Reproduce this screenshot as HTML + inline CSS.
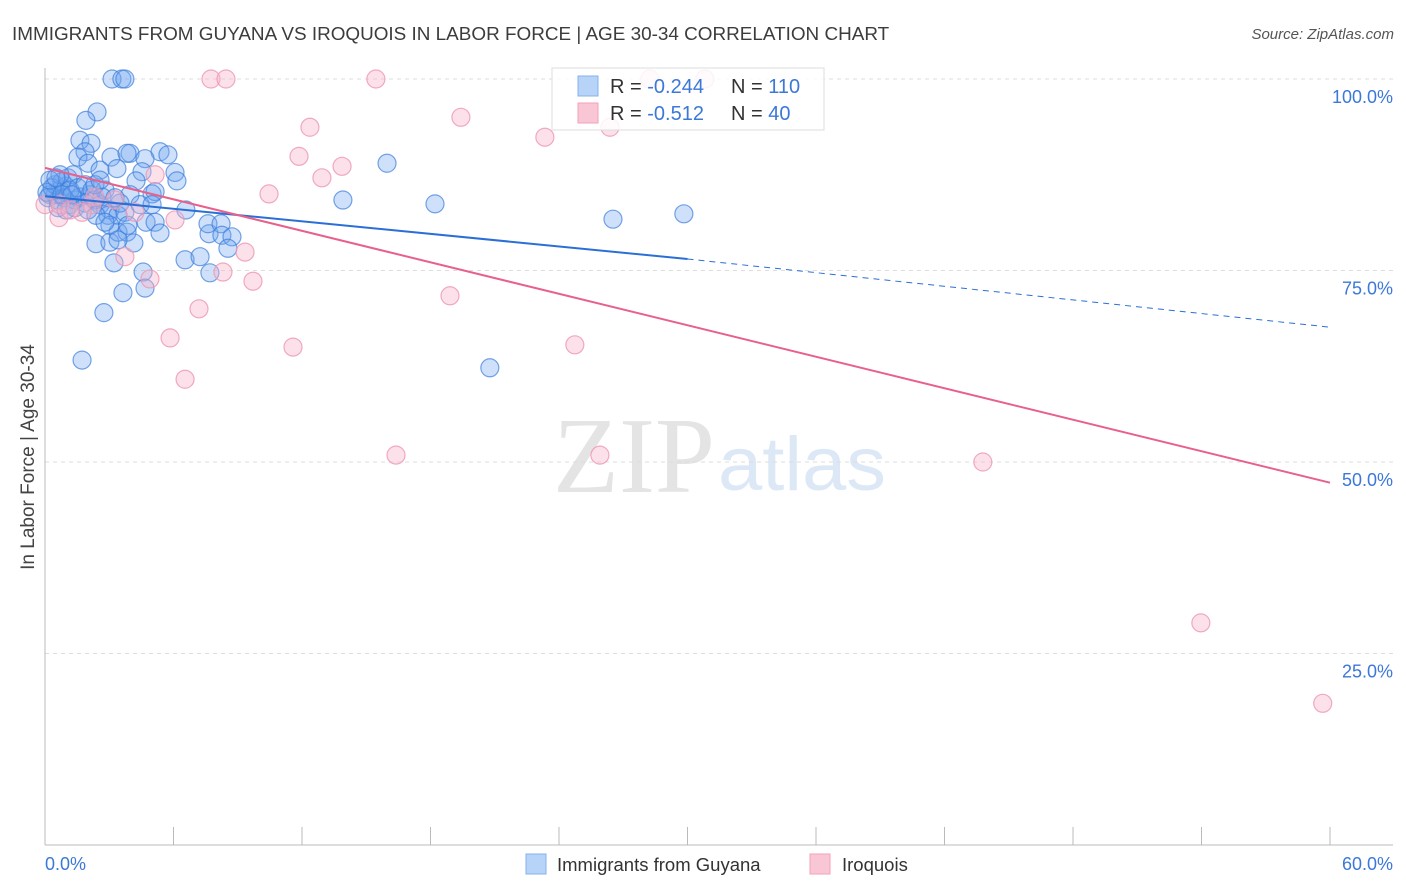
<!DOCTYPE html>
<html><head><meta charset="utf-8">
<style>
body{margin:0;background:#fff;font-family:"Liberation Sans",sans-serif;}
#wrap{position:relative;width:1406px;height:892px;overflow:hidden;}
</style></head>
<body>
<div id="wrap">
<svg id="chart" width="1406" height="892" xmlns="http://www.w3.org/2000/svg">
<text x="12" y="40" font-size="18.9" fill="#3c3c3c">IMMIGRANTS FROM GUYANA VS IROQUOIS IN LABOR FORCE | AGE 30-34 CORRELATION CHART</text>
<text x="1394" y="39" font-size="15" fill="#555" font-style="italic" text-anchor="end">Source: ZipAtlas.com</text>
<g>
<text x="553" y="492" font-family="Liberation Serif,serif" font-size="108" fill="#e4e4e4" textLength="162" lengthAdjust="spacingAndGlyphs">ZIP</text>
<text x="718" y="490" font-size="76" fill="#dde8f6" textLength="168" lengthAdjust="spacingAndGlyphs">atlas</text>
</g>
<g id="grid"></g>
<g id="axes"></g>
<g id="pts"></g>
<g id="trends"></g>
<text transform="translate(34,457) rotate(-90)" font-size="19" fill="#444" text-anchor="middle">In Labor Force | Age 30-34</text>
<text x="45" y="870" font-size="18" fill="#3b78d8">0.0%</text>
<text x="1393" y="870" font-size="18" fill="#3b78d8" text-anchor="end">60.0%</text>
<g>
<rect x="552" y="68" width="272" height="62" fill="rgba(255,255,255,0.85)" stroke="#ddd"/>
<rect x="578" y="76" width="20" height="20" fill="#b7d3f7" stroke="#86b3ee"/>
<rect x="578" y="103" width="20" height="20" fill="#f9c6d5" stroke="#f1a2ba"/>
<text x="610" y="93" font-size="20" fill="#333">R = <tspan fill="#3b78d8">-0.244</tspan><tspan x="731">N = </tspan><tspan fill="#3b78d8">110</tspan></text>
<text x="610" y="120" font-size="20" fill="#333">R = <tspan fill="#3b78d8"> -0.512</tspan><tspan x="731">N = </tspan><tspan fill="#3b78d8"> 40</tspan></text>
</g>
<g>
<rect x="526" y="854" width="20" height="20" fill="#b7d3f7" stroke="#86b3ee"/>
<text x="557" y="871" font-size="18.5" fill="#333">Immigrants from Guyana</text>
<rect x="810" y="854" width="20" height="20" fill="#f9c6d5" stroke="#f1a2ba"/>
<text x="842" y="871" font-size="18.5" fill="#333">Iroquois</text>
</g>
</svg>
</div>
<script>
const yTicks=[100,75,50,25];
const yTickLabels=["100.0%","75.0%","50.0%","25.0%"];
const xTicks=[0,6,12,18,24,30,36,42,48,54,60];
const blueX=[3.13,3.59,3.73,2.43,1.91,1.63,2.15,1.87,1.54,2.01,3.08,3.97,3.83,5.37,4.67,5.74,2.57,3.36,4.53,6.07,6.16,4.25,5.0,5.14,3.97,0.70,0.98,0.47,0.23,0.14,0.61,1.17,1.40,1.63,2.10,2.33,2.57,3.03,2.94,3.41,2.80,3.50,3.73,4.72,5.14,5.37,6.58,6.54,7.24,7.66,7.61,8.22,8.26,8.73,8.54,7.70,2.38,3.03,3.41,3.83,4.15,3.22,4.58,4.67,3.64,2.75,1.73,13.91,15.97,18.21,26.52,29.83,20.77,0.47,0.79,1.07,1.31,0.89,0.33,0.09,1.17,1.54,1.87,2.19,2.66,3.27,0.61,0.98,1.40,1.87,2.33,2.57,0.70,3.03,3.87,4.44,5.0,3.41,0.23,0.51,0.79,1.26,2.01,2.38,2.80];
const blueY=[100,100,100,95.7,94.6,92.0,91.6,90.5,89.8,89.0,89.8,90.3,90.3,90.5,89.6,90.1,88.1,88.3,87.9,87.8,86.7,86.7,85.0,85.3,84.9,85.5,86.0,84.9,84.9,84.5,84.2,83.6,84.2,84.6,84.9,84.2,83.6,82.9,82.2,82.2,85.5,83.8,82.6,81.3,81.3,79.9,82.9,76.4,76.8,79.8,81.1,81.1,79.6,79.4,77.9,74.7,78.5,78.7,80.0,80.0,78.6,76.0,74.8,72.7,72.1,69.5,63.3,84.2,89.0,83.7,81.7,82.4,62.3,86.2,86.6,87.1,87.5,84.5,85.8,85.2,85.5,85.8,86.2,85.5,84.6,84.5,83.2,82.9,83.2,83.8,86.2,86.8,87.5,80.9,80.9,83.6,83.6,79.0,86.8,87.1,84.9,84.9,82.9,82.2,81.3];
const pinkX=[7.75,8.45,15.45,19.42,23.34,26.38,28.24,30.81,12.37,11.86,13.87,12.93,10.46,5.14,6.07,4.20,3.27,2.19,1.73,0.65,0,0.70,1.17,9.34,8.31,9.71,4.90,3.73,7.19,5.84,6.54,11.58,18.91,24.74,16.39,25.91,43.79,53.97,59.66,2.33];
const pinkY=[100,100,100,95.0,92.4,93.7,100,100,93.7,89.9,88.6,87.1,85.0,87.5,81.6,82.6,84.2,83.6,82.6,81.9,83.6,83.6,82.9,77.4,74.8,73.6,73.9,76.8,70.0,66.2,60.8,65.0,71.7,65.3,50.9,50.9,50.0,29.0,18.5,84.6];
const blueTrend=[84.7,76.5,67.6]; // at x=0,30,60
const pinkTrend=[88.4,47.3]; // at x=0,60

const X0=45,X1=1330,Y0=845,Y100=79;
const sx=v=>X0+(v/60)*(X1-X0);
const sy=v=>Y0-(v/100)*(Y0-Y100);
const NS="http://www.w3.org/2000/svg";
function mk(tag,attrs,parent){const e=document.createElementNS(NS,tag);for(const k in attrs)e.setAttribute(k,attrs[k]);parent.appendChild(e);return e;}
const grid=document.getElementById('grid'),axes=document.getElementById('axes'),pts=document.getElementById('pts'),tr=document.getElementById('trends');
yTicks.forEach((t,i)=>{
  const l=mk('line',{x1:45,x2:1393,y1:sy(t),y2:sy(t),stroke:'#ddd','stroke-dasharray':'4,4'},grid);
  
  
  const tx=mk('text',{x:1393,y:sy(t)+24,'font-size':18,fill:'#3b78d8','text-anchor':'end'},grid);
  tx.textContent=yTickLabels[i];
  
  
});
const ax=mk('line',{x1:45,x2:1393,y1:845,y2:845,stroke:'#bbb'},axes);


const ay=mk('line',{x1:45,x2:45,y1:68,y2:845,stroke:'#bbb'},axes);


xTicks.forEach(t=>{
  const l=mk('line',{x1:sx(t),x2:sx(t),y1:827,y2:845,stroke:'#bbb'},axes);
  
  
});
blueX.forEach((x,i)=>{
  const c=mk('circle',{cx:sx(x),cy:sy(blueY[i]),r:9,fill:'rgba(110,165,240,0.33)',stroke:'rgba(60,125,220,0.7)','stroke-width':1.2},pts);
  
  
});
pinkX.forEach((x,i)=>{
  const c=mk('circle',{cx:sx(x),cy:sy(pinkY[i]),r:9,fill:'rgba(248,180,202,0.4)',stroke:'rgba(238,150,178,0.8)','stroke-width':1.2},pts);
  
  
});
const b1=mk('line',{x1:sx(0),y1:sy(blueTrend[0]),x2:sx(30),y2:sy(blueTrend[1]),stroke:'#2a6fd6','stroke-width':2},tr);


const b2=mk('line',{x1:sx(30),y1:sy(blueTrend[1]),x2:sx(60),y2:sy(blueTrend[2]),stroke:'#2a6fd6','stroke-width':1,'stroke-dasharray':'6,5'},tr);


const p1=mk('line',{x1:sx(0),y1:sy(pinkTrend[0]),x2:sx(60),y2:sy(pinkTrend[1]),stroke:'#e8608c','stroke-width':2},tr);


</script>
</body></html>
